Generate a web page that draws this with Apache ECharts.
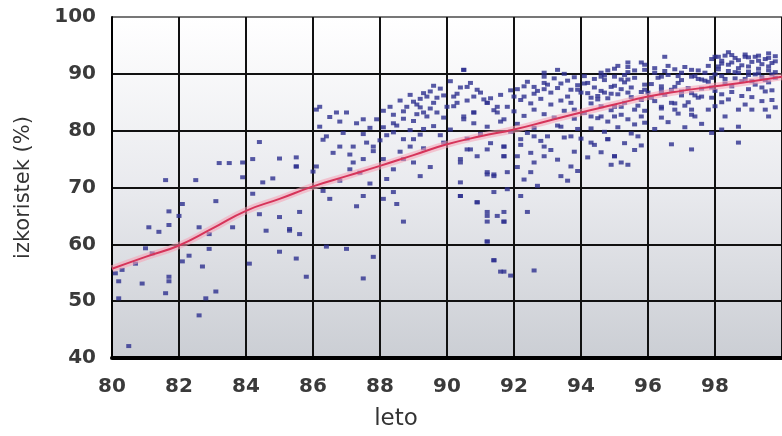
<!DOCTYPE html>
<html>
<head>
<meta charset="utf-8">
<script src="https://cdn.jsdelivr.net/npm/echarts@6/dist/echarts.min.js"></script>
<style>html,body{margin:0;padding:0;background:#fff}#c{width:782px;height:436px}</style>
</head>
<body>
<div id="c"></div>
<script>
var xTicks = [80, 82, 84, 86, 88, 90, 92, 94, 96, 98, 100];
var yTicks = [40, 50, 60, 70, 80, 90, 100];

var trendYears  = [80, 81, 82, 83, 84, 85, 86, 87, 88, 89, 90, 91, 92, 93, 94, 95, 96, 97, 98, 99, 100];
var trendValues = [55.7, 57.8, 59.8, 62.8, 65.9, 68.0, 70.2, 72.0, 73.8, 75.7, 77.6, 79.0, 80.2, 81.7, 83.2, 84.6, 86.0, 87.0, 87.8, 88.6, 89.5];

var pointsEarly = [
 [81.6,71.3],[82.5,71.3],[84.4,78],[85.0,75.1],[85.5,73.7],[83.2,74.3],[83.5,74.3],[83.9,74.4],[83.9,71.8],[84.2,75],[84.5,70.9],
 [82.1,67.1],[83.1,67.6],[81.7,65.8],[81.1,63],[81.4,62.2],[81.7,63.4],[82.6,63],[82.9,61.8],[83.6,63],[84.4,65.3],[85.0,64.8],
 [85.3,62.4],[84.6,62.4],[81.2,58.4],[80.7,56.6],[80.1,54.9],[80.2,53.5],[80.9,53.1],[81.7,54.3],[81.7,53.5],[81.6,51.4],[80.2,50.5],
 [82.1,57],[82.3,58],[82.7,56.1],[82.9,59.2],[83.1,51.7],[82.8,50.5],[82.6,47.5],[80.5,42.1],[84.1,56.6],[85.0,58.7],[82.0,65],
 [80.3,55.5],[81.0,59.3],[85.6,65.7],[85.3,62.7],[85.6,61.8],[85.5,57.5],[85.8,54.3],[85.5,75.3],[85.5,73.7],[84.8,71.6],[84.2,68.9]
];

var pointsMid = [
 [86.1,83.7],[86.7,83.2],[86.8,81.6],[87.5,82],[87.9,82],[88.4,82.8],[88.7,83.4],[89.1,84.6],[89.4,86],[89.6,84.9],[89.3,83.2],
 [89.7,83.2],[89.9,82.3],[90,84.2],[90.2,86],[90.5,90.7],[90.6,87.7],[90.8,86],[91.1,85.5],[91.2,84.9],[91.5,84.2],[90.8,83.2],
 [90.5,82],[88.1,80.6],[88.4,79.7],[88.7,78.5],[89,78.5],[89.2,79.3],[88.9,77.2],[87.8,77.2],[87.6,77.9],[87.2,77.2],[86.8,77.2],
 [86.4,79],[86.2,80.7],[86.1,73.7],[87.2,74.4],[87.1,73.2],[87.5,75],[88.1,75],[88.4,73.2],[88.7,75],[89,74.4],[89.5,73.6],
 [89.2,72],[88.2,71.5],[86.5,68],[87.3,66.7],[87.5,68.5],[88.1,68],[88.4,69.2],[88.5,67.1],[86.4,59.6],[87,59.2],[88.7,64],
 [87.8,57.8],[87.5,54],[90.4,68.5],[90.9,67.4],[91.2,72.3],[91.4,72.3],[90.6,76.7],[90.9,75.5],[90.4,74.4],[91.2,65],[91.5,65],
 [91.7,64],[91.2,60.5],[91.4,57.2],[91.7,55.2],[91.7,77.2],[91.7,75.5],
 [88.3,84.2],[88.6,85.3],[88.9,86.3],[89.2,85.6],[89.5,86.9],[89.8,87.4],[89.7,85.8],[88.1,83.5],[88.8,84.2],[89.4,82.5],[88.4,81.3],
 [89.0,81.7],[89.6,80.8],[88.2,79.2],[88.9,80.1],[89.8,79.2],[88.6,76.3],[89.3,76.9],[89.9,77.9],
 [86.2,84.2],[86.5,82.4],[87.0,83.2],[87.3,81.3],[87.7,80.5],[86.3,78.4],[86.9,79.6],[87.5,79.4],[86.6,76.1],[87.1,75.8],[87.8,76.4],
 [86.0,72.8],[86.8,71.2],[87.4,72.6],[87.7,70.7],[86.3,69.4],
 [89.0,85.1],[89.3,86.6],[89.6,87.9],[89.9,86.2],[89.2,84.1],[89.5,83.9],[88.7,82.1],[89.1,82.9],[88.5,80.9],[89.3,80.3],[88.0,78.3]
];

var pointsLate = [
 [90.5,90.7],[90.7,88.4],[90.9,87.2],[90.3,84.9],[90.5,82.5],[90.8,83.2],[91.2,84.9],[91.5,83.2],[91.2,80.7],[91.7,82],[92,86],
 [92.3,86],[92.6,87.7],[92.9,88.4],[93.1,86.7],[92.6,83.7],[92.9,89.5],[93.3,90.7],[93.6,86],[93.9,87.2],[94.2,88.4],[94.6,89.5],
 [94.9,87.7],[95.2,89],[95.4,91.2],[95.2,84.2],[95,82.5],[94.6,82.5],[94.3,82.5],[93.8,83.7],[93.4,80.7],[93,79],[92.6,79],
 [92.2,78.5],[93.7,79],[94.3,77.9],[94.8,78.5],[95,75.5],[95.2,74.4],[92.9,77.2],[92.9,75.5],[92.6,74.4],[92.5,72.7],[93.4,72],
 [93.7,73.7],[91.7,77.2],[91.7,75.5],[92.1,75.5],[91.2,76.7],[90.7,76.7],[90.4,75],[91.2,72.7],[91.4,72],[91.8,72.7],[90.4,70.9],
 [90.4,68.5],[90.9,67.4],[91.4,69.2],[91.8,69.7],[92.2,68.5],[92.4,65.7],[91.2,65.7],[91.7,65.7],[91.2,64],[91.7,64],[91.2,60.5],
 [91.4,57.2],[91.6,55.2],[91.9,54.5],[92.6,55.4],
 [96.5,93],[98.1,93],[98.5,93.3],[98.9,93],[99.3,93.2],[99.6,92.8],[95.4,92],[95.8,92],[94.6,90.2],[95,89.5],[95.4,89],[96.4,89.5],
 [97,90.2],[97.3,89.5],[97.6,89],[96.8,87.7],[96.4,87.2],[95.9,87.2],[95.4,86.7],[94.7,86.7],[94.5,85.5],[95,84.2],[95.6,83.7],
 [95.8,82.5],[96.4,84.2],[96.8,83.7],[97.3,83.7],[97.4,82.5],[97.8,83.7],[98.3,82.5],[98.7,83.7],[99.1,83.7],[99.5,83.7],[99.6,82.5],
 [96.4,82.3],[97.1,80.6],[98.2,80.2],[98.7,80.7],[96.7,77.6],[97.3,76.7],[98.7,77.9],[94.8,78.5],[95,75.5],[94.9,74],[95.4,74],
 [95.7,79],[95.9,81.4],[95.4,82],
 [98.0,93],[98.3,93.2],[98.6,92.8],[98.9,93.4],[99.2,93],[99.5,92.6],[99.8,93.1],[98.2,91.8],[98.5,92],[98.8,91.5],[99.1,92.1],
 [99.4,91.7],[99.7,91.9],[98.1,90.8],[98.4,90.5],[98.7,91],[99.0,90.4],[99.3,90.9],[99.6,90.6],[98.2,89.6],[98.6,89.2],[99.0,89.8],
 [99.4,89.4],[99.7,89.9],[97.8,88.6],[98.3,88.3],[98.8,88.7],[99.2,88.1],[99.6,88.5],[97.6,87.4],[98.0,87],[98.5,86.8],[99.0,87.3],
 [99.5,86.9],[97.4,86.2],[97.9,85.8],[98.4,85.5],[99.1,85.9],[99.7,85.4],[97.2,85],[96.8,84.8],[98.0,84.3],
 [96.2,91],[96.5,90.5],[96.8,90.8],[97.1,91.2],[97.5,90.6],[97.8,91.4],[96.3,89.3],[96.6,89.8],[97.0,88.9],[97.4,89.6],[97.7,88.8],
 [96.1,88.2],[96.4,87.8],[96.9,88.4],[97.2,87.5],[96.0,86.7],[96.5,86.3],[97.0,86.9],[97.5,85.8],[96.2,85.2],[96.7,84.9],[97.1,84.4],
 [96.4,83.9],[96.9,83],[97.3,82.8],[96.6,81.5],[97.6,81.2],[96.2,80.3],[97.9,79.6],
 [94.1,88.3],[94.4,87.6],[94.7,88.9],[95.0,87.9],[95.3,88.5],[95.6,89.3],[95.9,88.1],[94.2,86.6],[94.5,86.1],[94.8,85.7],[95.1,86.4],
 [95.5,85.9],[95.8,86.8],[94.3,84.8],[94.6,84.3],[94.9,83.6],[95.3,84.9],[95.7,84.4],[94.1,83.1],[94.5,82.2],[94.8,81.6],[95.2,82.8],
 [95.6,81.1],[95.9,83.5],[94.3,80.4],[94.7,79.8],[95.1,80.6],[95.5,79.5],[94.0,78.6],[94.4,77.5],[95.3,77.8],[94.6,76.2],[95.8,77.4],
 [94.2,75.3],[95.6,76.6],[94.8,90.6],[95.1,91.4],[95.4,90.3],[95.9,90.7],
 [92.1,87.3],[92.4,88.6],[92.7,87.0],[93.0,88.1],[93.3,87.5],[93.6,88.8],[93.9,88.0],[92.2,85.4],[92.5,84.8],[92.8,85.6],[93.1,84.6],
 [93.4,85.3],[93.7,84.9],[92.0,83.4],[92.3,82.6],[92.9,82.9],[93.2,82.3],[93.5,83.5],[93.8,82.1],[92.1,81.2],[92.6,80.5],[93.3,80.9],
 [93.9,80.3],[92.4,79.6],[92.8,78.2],[93.5,78.8],[92.2,77.5],[93.1,76.6],[93.8,76.3],[92.5,76.1],[93.3,74.9],[92.1,73.6],[93.9,72.9],
 [92.3,71.4],[93.6,71.2],[92.7,70.3],[92.9,90.2],
 [90.1,88.7],[90.4,87.6],[90.3,86.5],[90.6,85.3],[91.0,86.7],[91.3,85.7],[91.6,86.3],[91.9,87.1],[90.2,84.3],[91.4,83.6],[91.8,84.2],
 [90.8,81.3],[91.6,81.6],[90.1,80.2],[91.0,79.4],[91.9,79.8],[90.6,78.6],[91.3,77.8],
 [97.9,92.6],[98.2,92.3],[98.4,93.8],[98.7,92.4],[99.0,92.9],[99.3,92.3],[99.6,93.6],[99.8,92.2],[98.1,91.3],[98.4,91.6],[98.7,90.2],
 [99.0,91.3],[99.3,90.1],[99.6,91.3],[99.8,90.3],[98.0,89.9],[98.3,89.1],[98.6,90.3],[98.9,89.1],[99.2,89.9],[99.5,88.9],[99.8,89.3],
 [97.7,90.2],[97.9,89.3],[97.5,89.1],[97.3,90.7],[96.9,89.6],[96.6,91.4],[96.2,90.2],[95.9,91.6],[95.6,90.6],[95.3,89.8],[95.0,90.9],
 [94.7,89.7],[94.4,89.1],[94.1,89.6],[93.8,89.4],[93.5,90.0],[93.2,89.2],[92.9,87.3],[92.6,86.5],[92.3,87.8],[93.4,88.3],[93.7,87.2],
 [94.0,86.7],[94.3,85.8],[94.6,87.0],[94.9,86.5],[95.2,87.3],[95.5,87.6],[95.8,85.4],[96.1,85.8],[96.4,86.6],[96.7,87.2],[97.0,86.2],
 [97.3,86.6],[97.6,86.0],[97.9,87.6],[98.2,86.4],[98.5,87.8],[98.8,86.1],[99.1,88.7],[99.4,87.6],[99.7,87.1],[98.2,85.0],[98.9,84.6],
 [99.4,85.2],[99.8,84.1]
];

var chart = echarts.init(document.getElementById('c'), null, {renderer: 'canvas'});
var tickFont = {fontFamily: 'DejaVu Sans', fontWeight: 'bold', fontSize: 20, color: '#3a3a3a'};
var scatterStyle = {color: '#2d2f8e'};
function scatterSeries(data) {
  return {type: 'scatter', data: data, symbol: 'rect', symbolSize: [5, 4], itemStyle: scatterStyle, silent: true, z: 3};
}
chart.setOption({
  animation: false,
  backgroundColor: '#ffffff',
  grid: {
    left: 112, top: 17, right: -8, bottom: 76,
    show: true, borderWidth: 0,
    backgroundColor: new echarts.graphic.LinearGradient(0, 0, 0, 1, [
      {offset: 0, color: '#ffffff'},
      {offset: 0.5, color: '#e9eaee'},
      {offset: 1, color: '#cbced4'}
    ])
  },
  xAxis: {
    type: 'value', min: xTicks[0], max: xTicks[xTicks.length - 1], interval: 2,
    axisLine: {show: true, onZero: false, lineStyle: {color: '#000', width: 4}},
    axisTick: {show: false},
    axisLabel: Object.assign({margin: 19, showMaxLabel: false}, tickFont),
    splitLine: {show: true, lineStyle: {color: '#111', width: 2}},
    name: 'leto', nameLocation: 'middle', nameGap: 50,
    nameTextStyle: {fontFamily: 'DejaVu Sans', fontSize: 23, color: '#333', padding: [0, 102, 0, 0]}
  },
  yAxis: {
    type: 'value', min: yTicks[0], max: yTicks[yTicks.length - 1], interval: 10,
    axisLine: {show: true, lineStyle: {color: '#000', width: 2}},
    axisTick: {show: false},
    axisLabel: Object.assign({margin: 16}, tickFont),
    splitLine: {show: true, lineStyle: {color: ['#111', '#111', '#111', '#111', '#111', '#111', '#777'], width: 2}},
    name: 'izkoristek (%)', nameLocation: 'middle', nameGap: 78,
    nameTextStyle: {fontFamily: 'DejaVu Sans', fontSize: 21, color: '#333'}
  },
  series: [
    scatterSeries(pointsEarly),
    scatterSeries(pointsMid),
    scatterSeries(pointsLate),
    {type: 'line', data: trendYears.map(function (y, i) { return [y, trendValues[i]]; }),
     smooth: true, symbol: 'none', silent: true, z: 4,
     lineStyle: {color: 'rgba(245,160,180,0.55)', width: 7}},
    {type: 'line', data: trendYears.map(function (y, i) { return [y, trendValues[i]]; }),
     smooth: true, symbol: 'none', silent: true, z: 5,
     lineStyle: {color: '#d6345a', width: 2}}
  ]
});
</script>
</body>
</html>
